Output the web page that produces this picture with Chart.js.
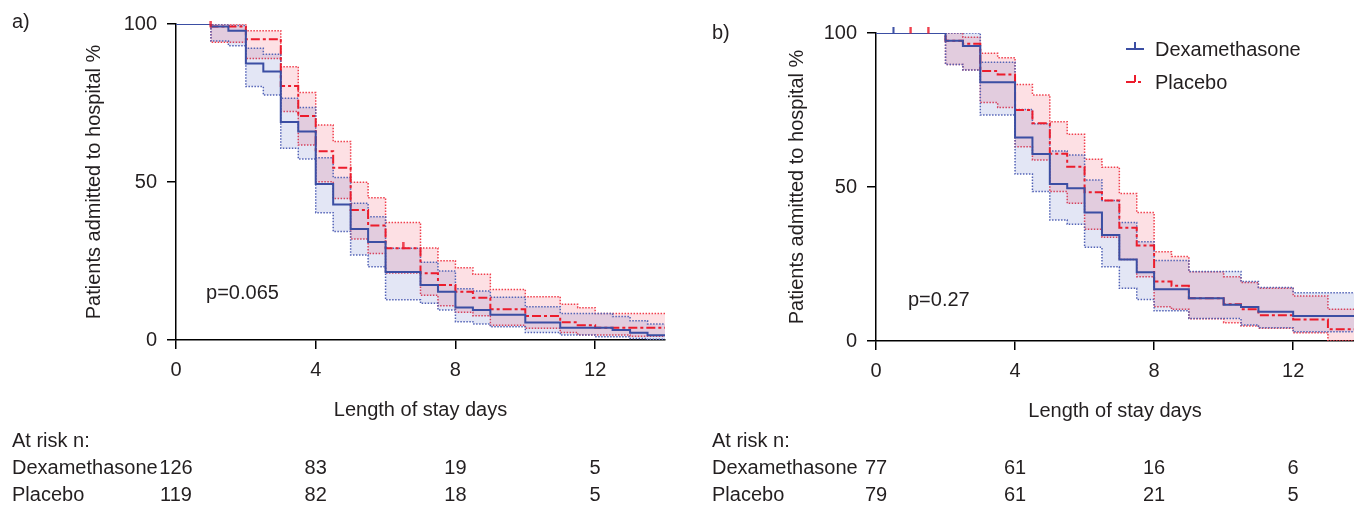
<!DOCTYPE html>
<html>
<head>
<meta charset="utf-8">
<script src="https://cdn.jsdelivr.net/npm/chart.js@4.4.0/dist/chart.umd.min.js"></script>
<style>
  html, body { margin: 0; padding: 0; background: #fff; }
  #wrap { position: relative; width: 1354px; height: 505px; overflow: hidden; }
  .panel { position: absolute; top: 0; width: 677px; height: 505px; }
</style>
</head>
<body>
<div id="wrap">
  <div class="panel" style="left:0"><canvas id="chart-a" width="677" height="505"></canvas></div>
  <div class="panel" style="left:677px"><canvas id="chart-b" width="677" height="505"></canvas></div>
</div>
<script>
// step start times (days); each value holds until the next time
const DAYS = [0, 0.5, 1, 1.5, 2, 2.5, 3, 3.5, 4, 4.5, 5, 5.5, 6, 6.5,
              7, 7.5, 8, 8.5, 9, 9.5, 10, 10.5, 11, 11.5, 12, 12.5, 13, 13.5];
const X_TICKS = [0, 4, 8, 12];
const Y_TICKS = [0, 50, 100];
const GROUPS = ['Dexamethasone', 'Placebo'];

// panel a)
const A_DEX    = [100, 100, 99.2, 97.9, 87.5, 85, 69, 66, 49.4, 42.9, 35.1, 31.0, 21.5, 21.5,
                  17.4, 15.3, 10.3, 9.5, 8.0, 8.0, 5.5, 5.5, 3.9, 3.9, 3.9, 3.2, 2.3, 1.5];
const A_DEX_HI = [100, 100, 100, 99.5, 92.3, 90.4, 76.5, 73.6, 57.7, 51.4, 43.3, 39.0, 29.0, 29.0,
                  24.6, 21.8, 16.2, 15.5, 13.5, 13.5, 10.5, 10.5, 8.4, 8.4, 8.4, 7.4, 6.1, 5.1];
const A_DEX_LO = [100, 100, 94.6, 93.1, 80.2, 77.5, 60.7, 57.3, 40.3, 34.3, 26.9, 23.2, 12.7, 12.7,
                  11.6, 9.5, 5.8, 5.1, 4.2, 4.2, 2.4, 2.4, 1.6, 1.6, 1.0, 1.0, 0.5, 0.2];
const A_PLA    = [100, 100, 99.2, 99.2, 95.2, 95.2, 80.4, 70.9, 59.7, 54.5, 41.1, 36.2, 29.0, 29.0,
                  21.1, 17.4, 15.3, 13.4, 9.7, 9.7, 7.6, 7.6, 5.6, 4.7, 3.9, 3.9, 3.9, 3.9];
const A_PLA_HI = [100, 100, 100, 100, 97.9, 97.9, 86.5, 78.3, 68.0, 62.8, 49.9, 45.0, 37.2, 37.2,
                  29.1, 25.1, 22.9, 20.8, 16.0, 16.0, 13.7, 13.7, 11.3, 10.2, 8.4, 8.4, 8.4, 8.4];
const A_PLA_LO = [100, 100, 94.2, 94.2, 89.1, 89.1, 72.3, 61.7, 50.1, 44.8, 32.0, 27.4, 21.2, 21.2,
                  14.2, 10.8, 8.8, 7.7, 4.7, 4.7, 3.7, 3.7, 2.4, 1.6, 1.6, 1.6, 1.2, 1.2];
const A_DEX_CENS = [];
const A_PLA_CENS = [1, 6.5];
const A_RISK_DEX = [126, 83, 19, 5];
const A_RISK_PLA = [119, 82, 18, 5];

// panel b)
const B_DEX    = [100, 100, 100, 100, 97.5, 95.8, 84.0, 84.0, 66.1, 60.7, 51.0, 49.6, 41.7, 34.4,
                  26.5, 22.3, 16.8, 16.8, 13.9, 13.9, 11.8, 11.0, 9.5, 9.5, 8.1, 8.1, 8.1, 8.1];
const B_DEX_HI = [100, 100, 100, 100, 100, 100, 90.5, 90.5, 75.2, 70.5, 61.7, 60.4, 52.3, 45.6,
                  38.5, 32.2, 26.1, 26.1, 22.6, 22.6, 22.6, 19.3, 17.4, 17.4, 15.7, 15.7, 15.7, 15.7];
const B_DEX_LO = [100, 100, 100, 100, 89.8, 88.0, 73.4, 73.4, 54.2, 48.5, 39.3, 37.9, 30.4, 24.1,
                  17.1, 13.5, 9.8, 9.8, 7.3, 7.3, 7.3, 5.2, 4.3, 4.3, 3.0, 3.0, 3.0, 3.0];
const B_PLA    = [100, 100, 100, 100, 97.5, 96.5, 87.7, 86.5, 75.0, 70.7, 60.8, 56.6, 48.3, 45.6,
                  36.8, 31.0, 19.3, 17.9, 13.9, 13.9, 11.9, 10.3, 8.4, 8.4, 7.0, 7.0, 3.8, 3.8];
const B_PLA_HI = [100, 100, 100, 100, 100, 98.6, 93.4, 92.0, 83.3, 79.9, 71.2, 67.1, 59.0, 56.4,
                  47.9, 41.7, 29.0, 27.4, 22.5, 22.5, 20.9, 19.0, 17.1, 17.1, 14.6, 14.6, 10.3, 10.3];
const B_PLA_LO = [100, 100, 100, 100, 89.8, 88.0, 77.4, 75.8, 63.1, 58.8, 48.5, 44.7, 36.3, 33.7,
                  26.5, 20.9, 11.1, 10.3, 7.2, 7.2, 5.9, 4.9, 4.1, 4.1, 2.7, 2.7, 0, 0];
const B_DEX_CENS = [0.5];
const B_PLA_CENS = [1, 1.5];
const B_RISK_DEX = [77, 61, 16, 6];
const B_RISK_PLA = [79, 61, 21, 5];

const FONT = '"Liberation Sans", Arial, sans-serif';
const TEXT = '#231f20';
const BLUE = '#3b4ea3';
const RED = '#ec1c2c';
const BLUE_DOT = '#5565b6';
const RED_DOT = '#f0404e';
const BLUE_FILL = 'rgba(70, 90, 190, 0.15)';
const RED_FILL = 'rgba(245, 60, 90, 0.16)';

Chart.defaults.font.family = FONT;
Chart.defaults.font.size = 20;
Chart.defaults.color = TEXT;

function tickImage(color) {
    const c = document.createElement('canvas');
    c.width = 3; c.height = 12;
    const g = c.getContext('2d');
    g.fillStyle = color;
    g.fillRect(0.5, 0, 2, 6.5);
    return c;
}

function steps(vals, xMax) {
    const pts = DAYS.map(function (d, i) { return { x: d, y: vals[i] }; });
    pts.push({ x: xMax, y: vals[vals.length - 1] });
    return pts;
}

function valueAt(vals, t) {
    let v = vals[0];
    DAYS.forEach(function (d, i) { if (d <= t) v = vals[i]; });
    return v;
}

const extras = {
    id: 'extras',
    afterDraw(chart, args, o) {
        const { ctx } = chart;
        const x = chart.scales.x, y = chart.scales.y;
        ctx.save();
        ctx.font = '20px ' + FONT;
        ctx.fillStyle = TEXT;
        ctx.textBaseline = 'middle';
        ctx.textAlign = 'left';
        ctx.fillText(o.label, o.labelX, o.labelY);
        ctx.fillText(o.pText, x.getPixelForValue(o.pAt[0]), y.getPixelForValue(o.pAt[1]));

        // at risk table
        ctx.fillText('At risk n:', o.labelX, 441);
        ctx.fillText(GROUPS[0], o.labelX, 468);
        ctx.fillText(GROUPS[1], o.labelX, 495);
        ctx.textAlign = 'center';
        X_TICKS.forEach(function (d, i) {
            const px = x.getPixelForValue(d);
            ctx.fillText(String(o.riskDex[i]), px, 468);
            ctx.fillText(String(o.riskPla[i]), px, 495);
        });

        if (o.legend) {
            const lx = o.legend[0], ly = o.legend[1];
            ctx.textAlign = 'left';
            [[BLUE, [], GROUPS[0]], [RED, [9, 3, 3, 3], GROUPS[1]]].forEach(function (it, k) {
                const yy = ly + k * 33;
                ctx.strokeStyle = it[0];
                ctx.lineWidth = 2;
                ctx.setLineDash(it[1]);
                ctx.beginPath();
                ctx.moveTo(lx, yy); ctx.lineTo(lx + 18, yy);
                ctx.stroke();
                ctx.setLineDash([]);
                ctx.beginPath();
                ctx.moveTo(lx + 9, yy); ctx.lineTo(lx + 9, yy - 7);
                ctx.stroke();
                ctx.fillStyle = TEXT;
                ctx.fillText(it[2], lx + 29, yy + 1);
            });
        }
        ctx.restore();
    }
};

function makePanel(id, p) {
    const bandLine = function (vals, color, fill) {
        return {
            data: steps(vals, p.xMax), stepped: true, borderColor: color, borderWidth: 1.5,
            borderDash: [1.5, 1.5], pointRadius: 0, fill: fill ? '+1' : false,
            backgroundColor: fill || 'transparent', order: 3
        };
    };
    const cens = function (times, vals, color) {
        return {
            data: times.map(function (t) { return { x: t, y: valueAt(vals, t) }; }),
            showLine: false, pointStyle: tickImage(color), pointRadius: 6, clip: false, order: 0
        };
    };
    new Chart(document.getElementById(id), {
        type: 'line',
        data: {
            datasets: [
                bandLine(p.dexHi, BLUE_DOT, BLUE_FILL),
                bandLine(p.dexLo, BLUE_DOT, null),
                bandLine(p.plaHi, RED_DOT, RED_FILL),
                bandLine(p.plaLo, RED_DOT, null),
                { data: steps(p.pla, p.xMax), stepped: true, borderColor: RED, borderWidth: 2,
                  borderDash: [9, 3, 3, 3], pointRadius: 0, fill: false, order: 2 },
                { data: steps(p.dex, p.xMax), stepped: true, borderColor: BLUE, borderWidth: 2,
                  pointRadius: 0, fill: false, order: 1 },
                cens(p.dexCens, p.dex, BLUE),
                cens(p.plaCens, p.pla, RED)
            ]
        },
        options: {
            responsive: false,
            animation: false,
            layout: { padding: p.padding, autoPadding: false },
            plugins: {
                legend: { display: false },
                tooltip: { enabled: false },
                extras: p.extras
            },
            scales: {
                x: {
                    type: 'linear', min: 0, max: p.xMax,
                    afterBuildTicks: function (s) { s.ticks = X_TICKS.map(function (v) { return { value: v }; }); },
                    afterFit: function (s) { s.height = 82; s.paddingLeft = 0; s.paddingRight = 0; },
                    border: { display: true, color: '#000', width: 1.5 },
                    grid: { drawOnChartArea: false, drawTicks: true, tickLength: 9, color: '#000', lineWidth: 1.5 },
                    ticks: { padding: 9, maxRotation: 0 },
                    title: { display: true, text: 'Length of stay days', padding: { top: 0, bottom: 0 } }
                },
                y: {
                    type: 'linear', min: 0, max: 100,
                    afterBuildTicks: function (s) { s.ticks = Y_TICKS.map(function (v) { return { value: v }; }); },
                    afterFit: function (s) { s.width = 96; },
                    border: { display: true, color: '#000', width: 1.5 },
                    grid: { drawOnChartArea: false, drawTicks: true, tickLength: 9, color: '#000', lineWidth: 1.5 },
                    ticks: { padding: 10 },
                    title: { display: true, text: 'Patients admitted to hospital %', padding: { top: p.yTitlePad, bottom: 0 } }
                }
            }
        },
        plugins: [extras]
    });
}

makePanel('chart-a', {
    xMax: 14,
    dex: A_DEX, dexHi: A_DEX_HI, dexLo: A_DEX_LO,
    pla: A_PLA, plaHi: A_PLA_HI, plaLo: A_PLA_LO,
    dexCens: A_DEX_CENS, plaCens: A_PLA_CENS,
    padding: { left: 80, top: 24, right: 12, bottom: 83 },
    yTitlePad: 2,
    extras: { label: 'a)', labelX: 12, labelY: 22, pText: 'p=0.065', pAt: [0.86, 14.6],
              riskDex: A_RISK_DEX, riskPla: A_RISK_PLA }
});

makePanel('chart-b', {
    xMax: 13.75,
    dex: B_DEX, dexHi: B_DEX_HI, dexLo: B_DEX_LO,
    pla: B_PLA, plaHi: B_PLA_HI, plaLo: B_PLA_LO,
    dexCens: B_DEX_CENS, plaCens: B_PLA_CENS,
    padding: { left: 103, top: 33, right: 0, bottom: 82 },
    yTitlePad: 5,
    extras: { label: 'b)', labelX: 35, labelY: 33, pText: 'p=0.27', pAt: [0.92, 13.3],
              riskDex: B_RISK_DEX, riskPla: B_RISK_PLA, legend: [449, 49] }
});
</script>
</body>
</html>
